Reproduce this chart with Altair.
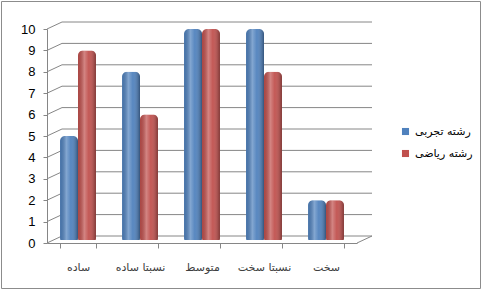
import altair as alt
import pandas as pd

categories = ["ساده", "نسبتا ساده", "متوسط", "نسبتا سخت", "سخت"]
series = ["رشته تجربی", "رشته ریاضی"]
tajrobi = [5, 8, 10, 10, 2]
riazi = [9, 6, 10, 8, 2]
y_ticks = list(range(0, 11))
colors = ["#4F81BD", "#C0504D"]

rows = []
for c, a, b in zip(categories, tajrobi, riazi):
    rows.append({"cat": c, "series": series[0], "value": a})
    rows.append({"cat": c, "series": series[1], "value": b})
df = pd.DataFrame(rows)
tick_df = pd.DataFrame({"value": y_ticks})

W, H = 310, 214
PL, PT, PR, PB = 47, 29, 126, 48
DX, DY = 15, 7  # 3D depth offset of back wall

yscale = alt.Scale(domain=[0, 10], nice=False)
y_axis = alt.Axis(title=None, values=y_ticks, labelFont="Liberation Sans",
                  labelFontSize=13, labelColor="#000000", labelPadding=8,
                  tickSize=4, tickColor="#868686", domainColor="#868686",
                  grid=False)

x_enc = alt.X("cat:N", sort=categories,
              scale=alt.Scale(paddingInner=0.42, paddingOuter=0.21),
              axis=alt.Axis(title=None, labelAngle=0, labelFont="DejaVu Sans",
                            labelFontSize=11, labelColor="#404040",
                            labelPadding=13, tickSize=5, tickColor="#868686",
                            domainColor="#868686", tickBand="extent"))
xo_enc = alt.XOffset("series:N", sort=series, scale=alt.Scale(paddingInner=0.0))
y_enc = alt.Y("value:Q", scale=yscale, axis=y_axis)

# back-wall gridlines and depth diagonals
grid_back = alt.Chart(tick_df).mark_rule(color="#868686", strokeWidth=1, yOffset=-DY, y2Offset=-DY).encode(
    y=alt.Y("value:Q", scale=yscale, axis=y_axis),
    x=alt.value(DX), x2=alt.value(W + DX),
)
grid_diag = alt.Chart(tick_df).mark_rule(color="#868686", strokeWidth=1, y2Offset=-DY).encode(
    y=alt.Y("value:Q", scale=yscale, axis=y_axis), y2="value:Q",
    x=alt.value(0), x2=alt.value(DX),
)
floor_df = pd.DataFrame({"value": [0]})
floor_diag = alt.Chart(floor_df).mark_rule(color="#868686", strokeWidth=1, y2Offset=-DY).encode(
    y=alt.Y("value:Q", scale=yscale, axis=y_axis), y2="value:Q",
    x=alt.value(W), x2=alt.value(W + DX),
)

base = alt.Chart(df)

bars = base.mark_bar(cornerRadius=5, yOffset=-3, y2Offset=-3).encode(
    x=x_enc, xOffset=xo_enc, y=y_enc,
    color=alt.Color("series:N", sort=series,
                    scale=alt.Scale(domain=series, range=colors),
                    legend=alt.Legend(title=None, orient="none", legendX=353, legendY=97,
                                      symbolType="square", symbolSize=50,
                                      symbolStrokeWidth=0, labelFont="DejaVu Sans",
                                      labelFontSize=11, labelColor="#000000",
                                      rowPadding=10, labelOffset=4)),
)

shade = base.mark_bar(
    cornerRadius=5, yOffset=-3, y2Offset=-3,
    color=alt.Gradient(
        gradient="linear", x1=0, x2=1, y1=0, y2=0,
        stops=[
            alt.GradientStop(color="rgba(0,0,0,0.10)", offset=0),
            alt.GradientStop(color="rgba(255,255,255,0.30)", offset=0.35),
            alt.GradientStop(color="rgba(255,255,255,0.05)", offset=0.6),
            alt.GradientStop(color="rgba(0,0,0,0.35)", offset=1),
        ],
    ),
).encode(x=x_enc, xOffset=xo_enc, y=y_enc)

border_df = pd.DataFrame({"k": [1]})
border = alt.Chart(border_df).mark_rect(filled=False, stroke="#8c8c8c", strokeWidth=1).encode(
    x=alt.value(-PL + 1.5), x2=alt.value(W + PR - 2.5),
    y=alt.value(-PT + 1.5), y2=alt.value(H + PB - 2.5),
)

chart = alt.layer(grid_back, grid_diag, floor_diag, bars, shade, border).properties(
    width=W, height=H,
    padding={"left": PL, "top": PT, "right": PR, "bottom": PB},
    autosize=alt.AutoSizeParams(type="none"),
    background="white",
).configure_view(stroke=None)

chart.save("out.html", embed_options={"renderer": "svg", "actions": False})
